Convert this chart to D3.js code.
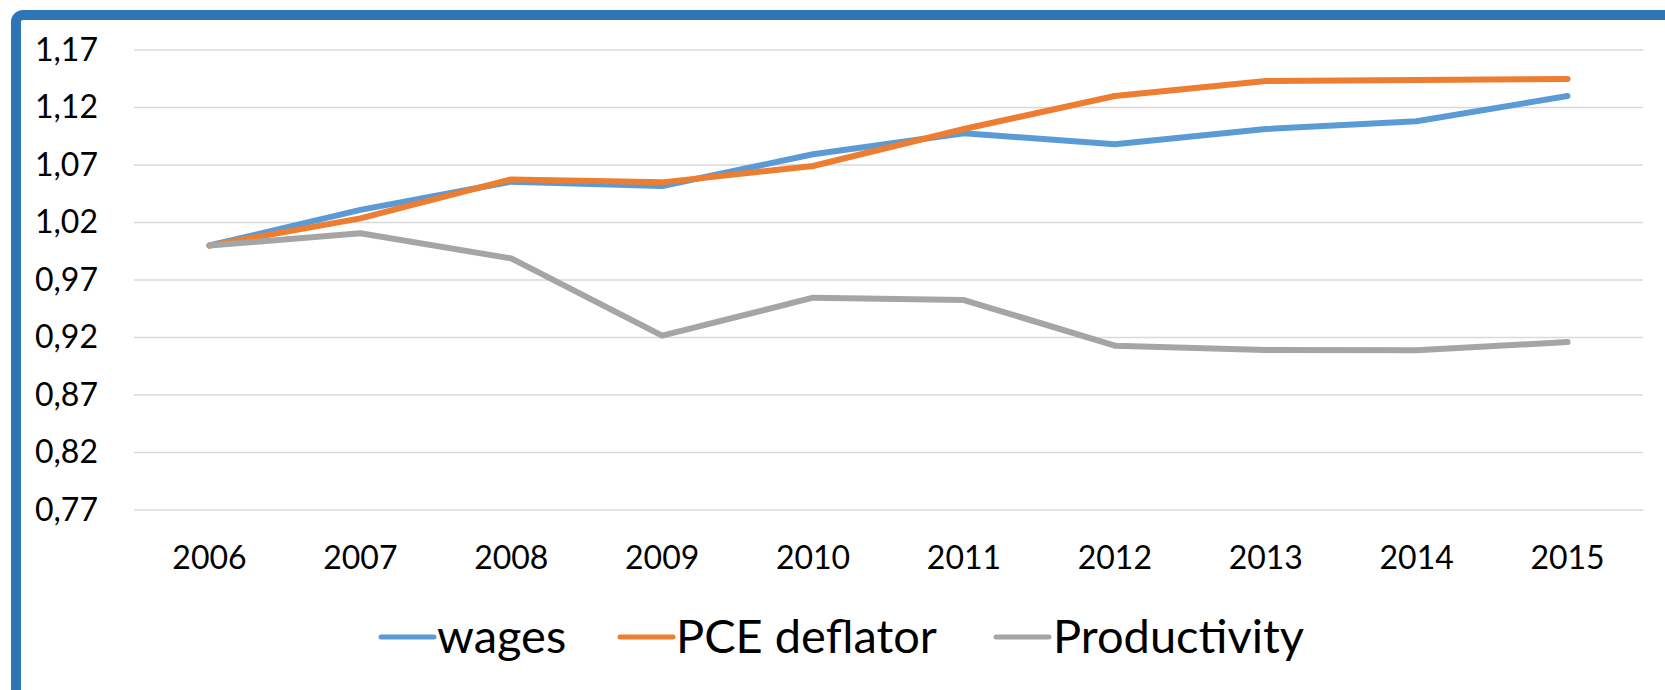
<!DOCTYPE html>
<html>
<head>
<meta charset="utf-8">
<script src="https://cdn.jsdelivr.net/npm/d3@7"></script>
<style>
  html, body { margin: 0; padding: 0; background: #fff; }
  svg { display: block; }
  text { font-family: Lato, "Open Sans", sans-serif; fill: #000; }
</style>
</head>
<body>
<svg id="chart" width="1665" height="690"></svg>
<script>
// data
var years = ["2006", "2007", "2008", "2009", "2010", "2011", "2012", "2013", "2014", "2015"];
var wages = [1.000, 1.031, 1.0555, 1.0517, 1.0793, 1.0976, 1.088, 1.1013, 1.108, 1.130];
var pceDeflator = [1.000, 1.0236, 1.0575, 1.0549, 1.0691, 1.1013, 1.130, 1.143, 1.144, 1.1448];
var productivity = [1.000, 1.0106, 0.9888, 0.9216, 0.9546, 0.9526, 0.9129, 0.9091, 0.909, 0.916];
var yTicks = [0.77, 0.82, 0.87, 0.92, 0.97, 1.02, 1.07, 1.12, 1.17];
var seriesNames = ["wages", "PCE deflator", "Productivity"];

var colors = {
  "wages": "#5B9BD5",
  "PCE deflator": "#ED7D31",
  "Productivity": "#A5A5A5"
};

var svg = d3.select("#chart");
var plotLeft = 134, plotRight = 1643, plotTop = 50, plotBottom = 510;

var x = d3.scaleBand().domain(years).range([plotLeft, plotRight]).padding(0);
var y = d3.scaleLinear().domain([0.77, 1.17]).range([plotBottom, plotTop]);

// outer frame
svg.append("rect")
  .attr("x", 16).attr("y", 15)
  .attr("width", 1700).attr("height", 700)
  .attr("rx", 7)
  .style("fill", "#fff")
  .style("stroke", "#2E75B6")
  .style("stroke-width", 10);

// gridlines
svg.append("g").selectAll("line")
  .data(yTicks)
  .enter().append("line")
  .attr("x1", plotLeft).attr("x2", plotRight)
  .attr("y1", function(d){ return y(d); })
  .attr("y2", function(d){ return y(d); })
  .style("stroke", "#D9D9D9")
  .style("stroke-width", 1.5);

// y axis labels
var yAxis = d3.axisLeft(y)
  .tickValues(yTicks)
  .tickSize(0)
  .tickPadding(0)
  .tickFormat(function(d){ return d3.format(".2f")(d).replace(".", ","); });
var gy = svg.append("g").attr("transform", "translate(98,0)").call(yAxis);
gy.select(".domain").remove();
gy.selectAll("text").style("font-size", "32px").style("font-family", "Lato, sans-serif").style("fill", "#000");

// x axis labels
var xAxis = d3.axisBottom(x).tickSize(0).tickPadding(0);
var gx = svg.append("g").attr("transform", "translate(0,546)").call(xAxis);
gx.select(".domain").remove();
gx.selectAll("text").style("font-size", "32px").style("font-family", "Lato, sans-serif").style("fill", "#000");

// lines
var line = d3.line()
  .x(function(d, i){ return x(years[i]) + x.bandwidth() / 2; })
  .y(function(d){ return y(d); });

var allSeries = [wages, pceDeflator, productivity];
allSeries.forEach(function(vals, k){
  svg.append("path")
    .datum(vals)
    .attr("d", line)
    .style("fill", "none")
    .style("stroke", colors[seriesNames[k]])
    .style("stroke-width", 6)
    .style("stroke-linecap", "round")
    .style("stroke-linejoin", "round");
});

// legend
var legendItems = [
  { name: "wages", x1: 381, textX: 437 },
  { name: "PCE deflator", x1: 620, textX: 676 },
  { name: "Productivity", x1: 996, textX: 1053 }
];
var lg = svg.append("g");
legendItems.forEach(function(it){
  lg.append("line")
    .attr("x1", it.x1).attr("x2", it.x1 + 53)
    .attr("y1", 637).attr("y2", 637)
    .style("stroke", colors[it.name])
    .style("stroke-width", 5)
    .style("stroke-linecap", "round");
  lg.append("text")
    .attr("x", it.textX).attr("y", 653)
    .style("font-size", "47px")
    .text(it.name);
});
</script>
</body>
</html>
